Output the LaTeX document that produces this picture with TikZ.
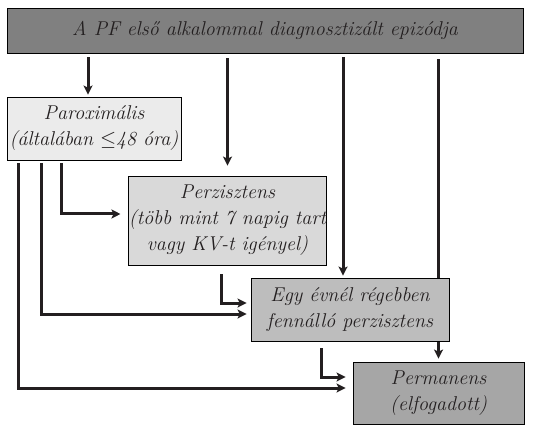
\documentclass[tikz,border=0pt]{standalone}
\usepackage{fontspec}
\usepackage{amsmath}
\usepackage{tikz}
\usetikzlibrary{arrows.meta,backgrounds}

\definecolor{lineblack}{HTML}{231F20}

\begin{document}
\begin{tikzpicture}[x=1pt,y=-1pt]
        \useasboundingbox (0,0) rectangle (534,435);
        \begin{scope}[every node/.style={draw=black,line width=0.8pt,rectangle,inner sep=0pt,
                      align=center,text=lineblack,font=\fontsize{20}{26}\selectfont\itshape}]
            \node (A) [fill=black!50,minimum width=516pt,minimum height=45pt] at (265,30.5) {A PF első alkalommal diagnosztizált epizódja};
            \node (B) [fill=black!8,minimum width=174pt,minimum height=63pt] at (94,128.5) {Paroximális\\(általában $\leq$48 óra)};
            \node (C) [fill=black!15,minimum width=197pt,minimum height=89pt] at (227.5,220.5) {Perzisztens\\(több mint 7 napig tart\\vagy KV-t igényel)};
            \node (D) [fill=black!26,minimum width=198pt,minimum height=63pt] at (350,309.5) {Egy évnél régebben\\fennálló perzisztens};
            \node (E) [fill=black!35,minimum width=171pt,minimum height=62pt] at (438.5,393) {Permanens\\(elfogadott)};
        \end{scope}

        \begin{scope}[on background layer,>={Stealth[length=9pt,width=9pt,inset=2pt]},
                      every path/.style={draw=lineblack,line width=3pt}]
            % from the first episode
            \draw [->,shorten <=4pt,shorten >=2pt] ([xshift=-6pt]B.north |- A.south) -- ([xshift=-6pt]B.north);
            \draw [->,shorten <=5pt,shorten >=10pt] (C.north |- A.south) -- (C.north);
            \draw [->,shorten <=4pt,shorten >=2pt] ([xshift=-7pt]D.north |- A.south) -- ([xshift=-7pt]D.north);
            \draw [->,shorten <=6pt,shorten >=3pt] (E.north |- A.south) -- (E.north);
            % from paroxysmal
            \draw [->,shorten <=3pt,shorten >=7pt] ([xshift=12pt]B.south west) |- ([yshift=5pt]E.west);
            \draw [->,shorten <=3pt,shorten >=4pt] ([xshift=35pt]B.south west) |- ([yshift=-4.5pt]D.west);
            \draw [->,shorten <=3pt,shorten >=8pt] ([xshift=55pt]B.south west) |- ([yshift=6.5pt]C.west);
            % onwards
            \draw [->,shorten <=9pt,shorten >=4pt] ([xshift=-6.5pt]C.south) |- ([yshift=6.5pt]D.west);
            \draw [->,shorten <=7pt,shorten >=7pt] ([xshift=-29pt]D.south) |- ([yshift=16pt]E.west);
        \end{scope}
\end{tikzpicture}
\end{document}
